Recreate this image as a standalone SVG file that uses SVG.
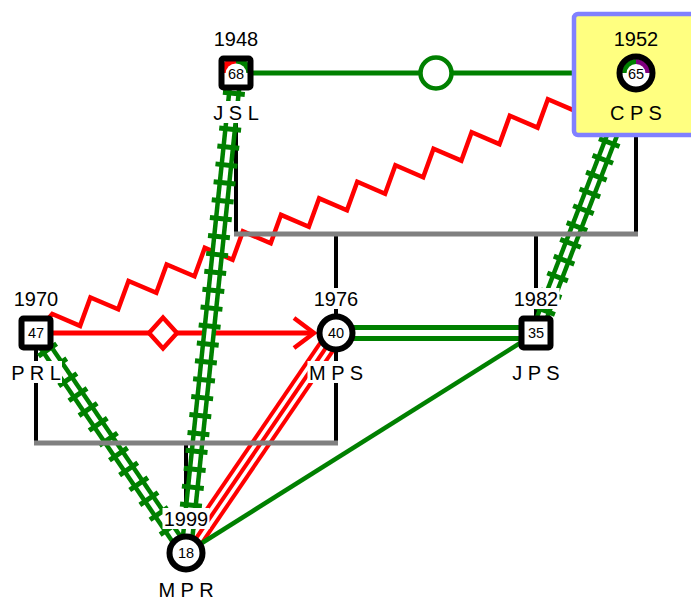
<svg xmlns="http://www.w3.org/2000/svg" width="691" height="602" viewBox="0 0 691 602">
<style>
text{font-family:"Liberation Sans",Arial,sans-serif;fill:#000}
.lbl{font-size:20px;text-anchor:middle}
.num{font-size:14.5px;text-anchor:middle}
.bg{fill:#fff}
.vl{stroke:#000;stroke-width:4;fill:none}
.hl{stroke:#808080;stroke-width:5;fill:none}
.sqf{fill:#fff}
.sq{fill:none;stroke:#000;stroke-width:6}
.cif{fill:#fff}
.ci{fill:none;stroke:#000;stroke-width:6}
.g{stroke:#008000;fill:none}
.r{stroke:#ff0000;fill:none}
.band{stroke:#008000;stroke-width:14}
.gap{stroke:#fff;stroke-width:5}
.tie{stroke:#008000;stroke-width:22;stroke-dasharray:5 13}
</style>
<rect width="691" height="602" fill="#fff"/>
<g id="family-drops">
<line class="vl" x1="236" y1="73" x2="236" y2="234"/>
<line class="vl" x1="636" y1="73" x2="636" y2="234"/>
<line class="vl" x1="336" y1="234" x2="336" y2="443"/>
<line class="vl" x1="536" y1="234" x2="536" y2="333"/>
<line class="vl" x1="36" y1="333" x2="36" y2="443"/>
<line class="vl" x1="186" y1="443" x2="186" y2="553"/>
</g>
<g id="connectors">
<line class="g" stroke-width="5" x1="236" y1="73" x2="636" y2="73"/>
<circle cx="436" cy="73" r="15.5" fill="#fff" stroke="#008000" stroke-width="4.5"/>
<polyline class="r" stroke-width="4.5" stroke-linejoin="miter" points="36,333 52.27,313.96 80.08,325.89 90.40,297.44 118.21,309.36 128.52,280.92 156.33,292.84 166.65,264.40 194.46,276.32 204.77,247.88 232.58,259.80 242.90,231.36 270.71,243.28 281.02,214.84 308.83,226.76 319.15,198.32 346.96,210.24 357.27,181.80 385.08,193.72 395.40,165.28 423.20,177.20 433.52,148.76 461.33,160.68 471.65,132.24 499.45,144.16 509.77,115.72 537.58,127.64 547.89,99.20 575.71,111.12 586.02,82.68 636,73"/>
<line class="r" stroke-width="5" x1="36" y1="333" x2="313" y2="333"/>
<polygon points="149,333 163,317.5 177,333 163,348.5" fill="#fff" stroke="#ff0000" stroke-width="4.5"/>
<polyline class="r" stroke-width="4.5" points="294,318 314,333 294,348"/>
<line class="g" stroke-width="5" x1="336" y1="327.5" x2="536" y2="327.5"/>
<line class="g" stroke-width="5" x1="336" y1="338.5" x2="536" y2="338.5"/>
<line class="r" stroke-width="4" x1="342.21" y1="337.2" x2="192.21" y2="557.2"/>
<line class="r" stroke-width="4" x1="336" y1="333" x2="186" y2="553"/>
<line class="r" stroke-width="4" x1="329.79" y1="328.8" x2="179.79" y2="548.8"/>
<line class="g" stroke-width="4.5" x1="536" y1="333" x2="186" y2="553"/>
<line class="band" x1="236" y1="73" x2="186" y2="553"/>
<line class="gap" x1="236" y1="73" x2="186" y2="553"/>
<line class="tie" x1="236" y1="73" x2="186" y2="553"/>
<line class="band" x1="36" y1="333" x2="186" y2="553"/>
<line class="gap" x1="36" y1="333" x2="186" y2="553"/>
<line class="tie" x1="36" y1="333" x2="186" y2="553"/>
<line class="band" x1="636" y1="73" x2="536" y2="333"/>
<line class="gap" x1="636" y1="73" x2="536" y2="333"/>
<line class="tie" x1="636" y1="73" x2="536" y2="333"/>
</g>
<g id="family-bars">
<line class="hl" x1="234" y1="234" x2="638" y2="234"/>
<line class="hl" x1="34" y1="443" x2="338" y2="443"/>
</g>
<g id="JSL">
<rect class="bg" x="212.5" y="28" width="47" height="21"/>
<text class="lbl" x="236" y="46">1948</text>
<rect class="sqf" x="221.5" y="58.5" width="29" height="29" rx="2"/>
<path d="M236,73 L220,73 A16,16 0 0 1 236,57 Z" fill="#ff0000"/>
<path d="M236,73 L236,57 A16,16 0 0 1 252,73 Z" fill="#008000"/>
<circle cx="236" cy="74" r="10.5" fill="#fff"/>
<text class="num" x="236" y="78.5">68</text>
<rect class="sq" x="221.5" y="58.5" width="29" height="29" rx="2"/>
<rect class="bg" x="212" y="101" width="48" height="22"/>
<text class="lbl" x="236" y="120">J S L</text>
</g>
<g id="CPS">
<rect x="574" y="14" width="130" height="121" rx="4" fill="#ffff80" stroke="#8080ff" stroke-width="4.5"/>
<text class="lbl" x="636" y="46">1952</text>
<circle class="cif" cx="636" cy="73" r="16.5"/>
<path d="M636,73 L622,73 A14,14 0 0 1 636,59 Z" fill="#008000"/>
<path d="M636,73 L636,59 A14,14 0 0 1 650,73 Z" fill="#800080"/>
<circle cx="636" cy="73.5" r="9.5" fill="#fff"/>
<text class="num" x="636" y="78.5">65</text>
<circle class="ci" cx="636" cy="73" r="16.5"/>
<text class="lbl" x="636" y="120">C P S</text>
</g>
<g id="PRL">
<rect class="bg" x="12.5" y="288" width="47" height="21"/>
<text class="lbl" x="36" y="306">1970</text>
<rect class="sqf" x="21.5" y="318.5" width="29" height="29" rx="2"/>
<text class="num" x="36" y="338">47</text>
<rect class="sq" x="21.5" y="318.5" width="29" height="29" rx="2"/>
<rect class="bg" x="10" y="361" width="52" height="22"/>
<text class="lbl" x="36" y="380">P R L</text>
</g>
<g id="MPS">
<rect class="bg" x="312.5" y="288" width="47" height="21"/>
<text class="lbl" x="336" y="306">1976</text>
<circle class="cif" cx="336" cy="333" r="16.5"/>
<text class="num" x="336" y="338">40</text>
<circle class="ci" cx="336" cy="333" r="16.5"/>
<rect class="bg" x="307.5" y="361" width="57" height="22"/>
<text class="lbl" x="336" y="380">M P S</text>
</g>
<g id="JPS">
<rect class="bg" x="512.5" y="288" width="47" height="21"/>
<text class="lbl" x="536" y="306">1982</text>
<rect class="sqf" x="521.5" y="318.5" width="29" height="29" rx="2"/>
<text class="num" x="536" y="338">35</text>
<rect class="sq" x="521.5" y="318.5" width="29" height="29" rx="2"/>
<rect class="bg" x="511" y="361" width="50" height="22"/>
<text class="lbl" x="536" y="380">J P S</text>
</g>
<g id="MPR">
<rect class="bg" x="162.5" y="508" width="47" height="21"/>
<text class="lbl" x="186" y="526">1999</text>
<circle class="cif" cx="186" cy="553" r="16.5"/>
<text class="num" x="186" y="558">18</text>
<circle class="ci" cx="186" cy="553" r="16.5"/>
<rect class="bg" x="157" y="579" width="58" height="21"/>
<text class="lbl" x="186" y="597">M P R</text>
</g>
</svg>
